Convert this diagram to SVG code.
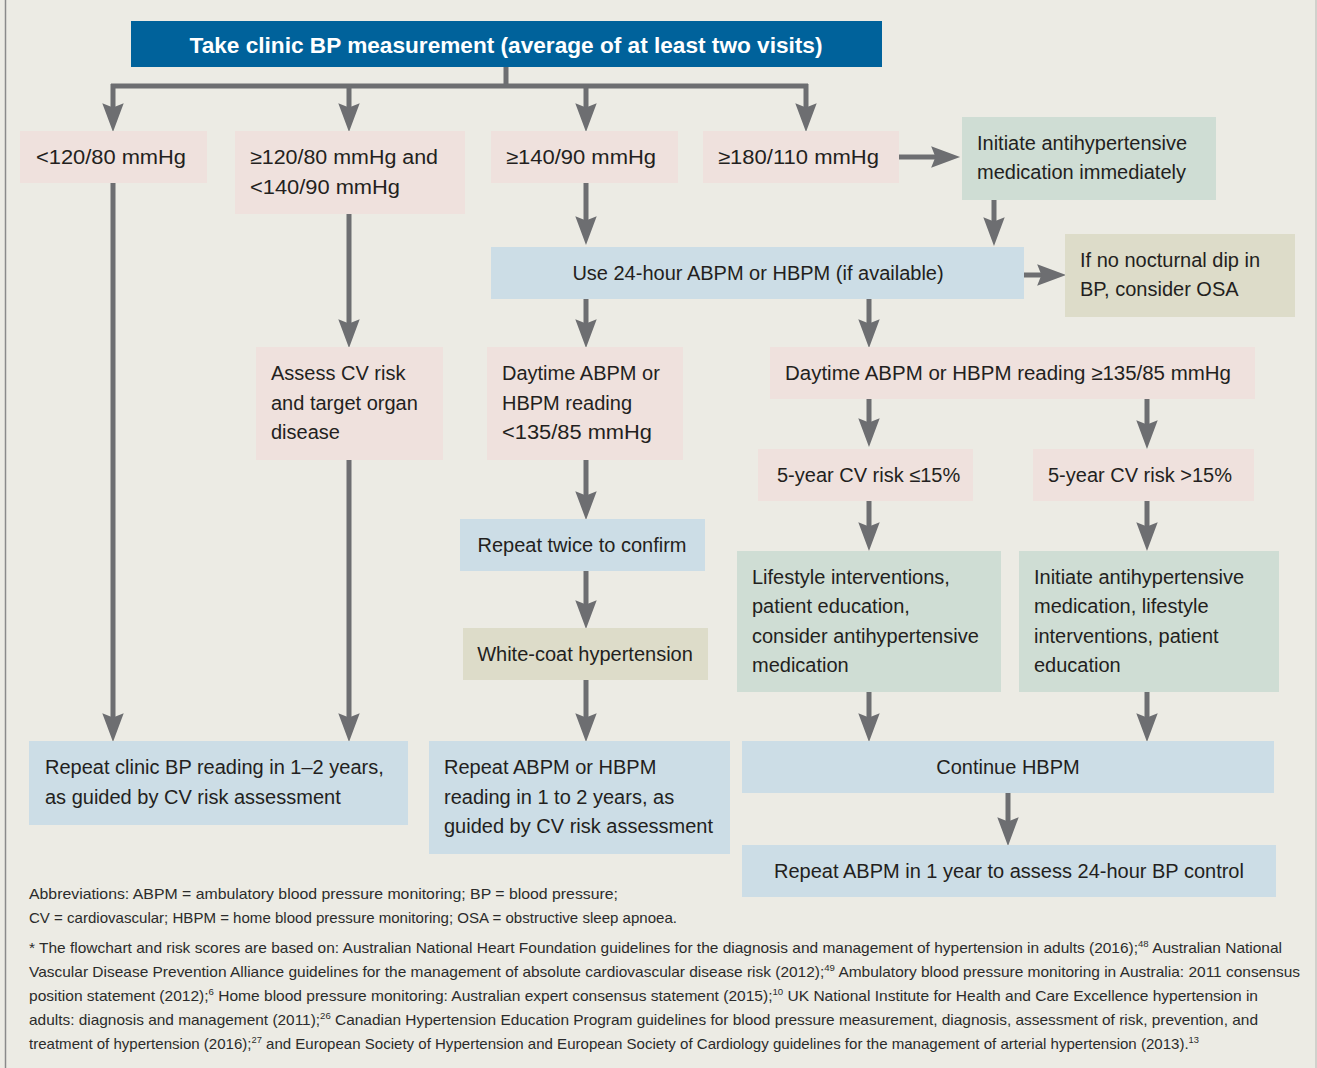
<svg xmlns="http://www.w3.org/2000/svg" width="1317" height="1068" viewBox="0 0 1317 1068">
<defs>
<style>
.t{font-family:"Liberation Sans",Arial,sans-serif;font-size:20px;fill:#231F20}
.c{text-anchor:middle}
.hd{font-family:"Liberation Sans",Arial,sans-serif;font-size:22px;font-weight:bold;fill:#FFFFFF;text-anchor:middle}
.fn{font-family:"Liberation Sans",Arial,sans-serif;font-size:14.5px;fill:#2B2B2B}
.sup{font-size:9px}
.pink{fill:#EFE1DD}
.blue{fill:#CCDDE6}
.green{fill:#CFDDD4}
.olive{fill:#DDDCC9}
.ln{fill:none;stroke:#6D6E71;stroke-width:5}
</style>
<marker id="ah" markerUnits="userSpaceOnUse" orient="auto" markerWidth="30" markerHeight="22" refX="12" refY="10" viewBox="0 0 28 20">
<path d="M0,0 L27,10 L0,20 L4,10 Z" fill="#6D6E71"/>
</marker>
</defs>
<rect x="0" y="0" width="1317" height="1068" fill="#ECEBE4"/>
<line x1="5.5" y1="0" x2="5.5" y2="1068" stroke="#8A8A8A" stroke-width="1.5"/>
<line x1="1316" y1="0" x2="1316" y2="1068" stroke="#C8C8C4" stroke-width="1.5"/>

<g id="connectors">
<polyline class="ln" points="506,67 506,86"/>
<polyline class="ln" points="111,86 808,86"/>
<line class="ln" x1="113" y1="84" x2="113" y2="116" marker-end="url(#ah)"/>
<line class="ln" x1="349" y1="84" x2="349" y2="116" marker-end="url(#ah)"/>
<line class="ln" x1="586" y1="84" x2="586" y2="116" marker-end="url(#ah)"/>
<line class="ln" x1="806" y1="84" x2="806" y2="116" marker-end="url(#ah)"/>
<line class="ln" x1="899" y1="157" x2="944" y2="157" marker-end="url(#ah)"/>
<line class="ln" x1="994" y1="200" x2="994" y2="230" marker-end="url(#ah)"/>
<line class="ln" x1="586" y1="183" x2="586" y2="229" marker-end="url(#ah)"/>
<line class="ln" x1="1024" y1="275" x2="1050" y2="275" marker-end="url(#ah)"/>
<line class="ln" x1="113" y1="183" x2="113" y2="726" marker-end="url(#ah)"/>
<line class="ln" x1="349" y1="214" x2="349" y2="332" marker-end="url(#ah)"/>
<line class="ln" x1="349" y1="460" x2="349" y2="726" marker-end="url(#ah)"/>
<line class="ln" x1="586" y1="299" x2="586" y2="332" marker-end="url(#ah)"/>
<line class="ln" x1="869" y1="299" x2="869" y2="332" marker-end="url(#ah)"/>
<line class="ln" x1="586" y1="460" x2="586" y2="504" marker-end="url(#ah)"/>
<line class="ln" x1="586" y1="571" x2="586" y2="613" marker-end="url(#ah)"/>
<line class="ln" x1="586" y1="680" x2="586" y2="726" marker-end="url(#ah)"/>
<line class="ln" x1="869" y1="399" x2="869" y2="431" marker-end="url(#ah)"/>
<line class="ln" x1="1147" y1="399" x2="1147" y2="433" marker-end="url(#ah)"/>
<line class="ln" x1="869" y1="501" x2="869" y2="535" marker-end="url(#ah)"/>
<line class="ln" x1="1147" y1="501" x2="1147" y2="535" marker-end="url(#ah)"/>
<line class="ln" x1="869" y1="692" x2="869" y2="726" marker-end="url(#ah)"/>
<line class="ln" x1="1147" y1="692" x2="1147" y2="726" marker-end="url(#ah)"/>
<line class="ln" x1="1008" y1="793" x2="1008" y2="830" marker-end="url(#ah)"/>
</g>

<g id="header">
<rect x="131" y="21" width="751" height="46" fill="#00629B"/>
<text class="hd" x="506" y="53" textLength="633" lengthAdjust="spacingAndGlyphs">Take clinic BP measurement (average of at least two visits)</text>
</g>

<g id="lt120">
<rect class="pink" x="20" y="131" width="187" height="52"/>
<text class="t" x="36" y="164" textLength="150" lengthAdjust="spacingAndGlyphs">&lt;120/80 mmHg</text>
</g>
<g id="bt120_140">
<rect class="pink" x="235" y="131" width="230" height="83"/>
<text class="t" x="250" y="164" textLength="188" lengthAdjust="spacingAndGlyphs">≥120/80 mmHg and</text>
<text class="t" x="250" y="194" textLength="150" lengthAdjust="spacingAndGlyphs">&lt;140/90 mmHg</text>
</g>
<g id="ge140">
<rect class="pink" x="491" y="131" width="187" height="52"/>
<text class="t" x="506" y="164" textLength="150" lengthAdjust="spacingAndGlyphs">≥140/90 mmHg</text>
</g>
<g id="ge180">
<rect class="pink" x="703" y="131" width="196" height="52"/>
<text class="t" x="718" y="164" textLength="161" lengthAdjust="spacingAndGlyphs">≥180/110 mmHg</text>
</g>
<g id="initiate_now">
<rect class="green" x="962" y="117" width="254" height="83"/>
<text class="t" x="977" y="150">Initiate antihypertensive</text>
<text class="t" x="977" y="179">medication immediately</text>
</g>
<g id="use24">
<rect class="blue" x="491" y="247" width="533" height="52"/>
<text class="t c" x="758" y="280">Use 24-hour ABPM or HBPM (if available)</text>
</g>
<g id="osa">
<rect class="olive" x="1065" y="234" width="230" height="83"/>
<text class="t" x="1080" y="267">If no nocturnal dip in</text>
<text class="t" x="1080" y="296">BP, consider OSA</text>
</g>
<g id="assess">
<rect class="pink" x="256" y="347" width="187" height="113"/>
<text class="t" x="271" y="380">Assess CV risk</text>
<text class="t" x="271" y="410">and target organ</text>
<text class="t" x="271" y="439">disease</text>
</g>
<g id="day_lt">
<rect class="pink" x="487" y="347" width="196" height="113"/>
<text class="t" x="502" y="380">Daytime ABPM or</text>
<text class="t" x="502" y="410">HBPM reading</text>
<text class="t" x="502" y="439" textLength="150" lengthAdjust="spacingAndGlyphs">&lt;135/85 mmHg</text>
</g>
<g id="day_ge">
<rect class="pink" x="770" y="347" width="485" height="52"/>
<text class="t" x="785" y="380" textLength="446" lengthAdjust="spacingAndGlyphs">Daytime ABPM or HBPM reading ≥135/85 mmHg</text>
</g>
<g id="risk_le">
<rect class="pink" x="758" y="449" width="215" height="52"/>
<text class="t" x="777" y="482">5-year CV risk ≤15%</text>
</g>
<g id="risk_gt">
<rect class="pink" x="1033" y="449" width="221" height="52"/>
<text class="t" x="1048" y="482">5-year CV risk &gt;15%</text>
</g>
<g id="repeat_twice">
<rect class="blue" x="460" y="519" width="245" height="52"/>
<text class="t c" x="582" y="552">Repeat twice to confirm</text>
</g>
<g id="white_coat">
<rect class="olive" x="463" y="628" width="245" height="52"/>
<text class="t c" x="585" y="661">White-coat hypertension</text>
</g>
<g id="lifestyle">
<rect class="green" x="737" y="551" width="264" height="141"/>
<text class="t" x="752" y="584">Lifestyle interventions,</text>
<text class="t" x="752" y="613">patient education,</text>
<text class="t" x="752" y="643">consider antihypertensive</text>
<text class="t" x="752" y="672">medication</text>
</g>
<g id="initiate_med">
<rect class="green" x="1019" y="551" width="260" height="141"/>
<text class="t" x="1034" y="584">Initiate antihypertensive</text>
<text class="t" x="1034" y="613">medication, lifestyle</text>
<text class="t" x="1034" y="643">interventions, patient</text>
<text class="t" x="1034" y="672">education</text>
</g>
<g id="repeat_clinic">
<rect class="blue" x="29" y="741" width="379" height="84"/>
<text class="t" x="45" y="774">Repeat clinic BP reading in 1–2 years,</text>
<text class="t" x="45" y="804">as guided by CV risk assessment</text>
</g>
<g id="repeat_abpm_hbpm">
<rect class="blue" x="429" y="741" width="301" height="113"/>
<text class="t" x="444" y="774">Repeat ABPM or HBPM</text>
<text class="t" x="444" y="804">reading in 1 to 2 years, as</text>
<text class="t" x="444" y="833">guided by CV risk assessment</text>
</g>
<g id="continue_hbpm">
<rect class="blue" x="742" y="741" width="532" height="52"/>
<text class="t c" x="1008" y="774">Continue HBPM</text>
</g>
<g id="repeat_abpm_1yr">
<rect class="blue" x="742" y="845" width="534" height="52"/>
<text class="t c" x="1009" y="878">Repeat ABPM in 1 year to assess 24-hour BP control</text>
</g>

<g id="footnotes">
<text class="fn" x="29" y="899" textLength="589" lengthAdjust="spacingAndGlyphs">Abbreviations: ABPM = ambulatory blood pressure monitoring; BP = blood pressure;</text>
<text class="fn" x="29" y="923" textLength="648" lengthAdjust="spacingAndGlyphs">CV = cardiovascular; HBPM = home blood pressure monitoring; OSA = obstructive sleep apnoea.</text>
<text class="fn" x="29" y="953" textLength="1253" lengthAdjust="spacingAndGlyphs">* The flowchart and risk scores are based on: Australian National Heart Foundation guidelines for the diagnosis and management of hypertension in adults (2016);<tspan class="sup" dy="-6">48</tspan><tspan dy="6"> Australian National</tspan></text>
<text class="fn" x="29" y="977" textLength="1271" lengthAdjust="spacingAndGlyphs">Vascular Disease Prevention Alliance guidelines for the management of absolute cardiovascular disease risk (2012);<tspan class="sup" dy="-6">49</tspan><tspan dy="6"> Ambulatory blood pressure monitoring in Australia: 2011 consensus</tspan></text>
<text class="fn" x="29" y="1001" textLength="1229" lengthAdjust="spacingAndGlyphs">position statement (2012);<tspan class="sup" dy="-6">6</tspan><tspan dy="6"> Home blood pressure monitoring: Australian expert consensus statement (2015);</tspan><tspan class="sup" dy="-6">10</tspan><tspan dy="6"> UK National Institute for Health and Care Excellence hypertension in</tspan></text>
<text class="fn" x="29" y="1025" textLength="1229" lengthAdjust="spacingAndGlyphs">adults: diagnosis and management (2011);<tspan class="sup" dy="-6">26</tspan><tspan dy="6"> Canadian Hypertension Education Program guidelines for blood pressure measurement, diagnosis, assessment of risk, prevention, and</tspan></text>
<text class="fn" x="29" y="1049" textLength="1170" lengthAdjust="spacingAndGlyphs">treatment of hypertension (2016);<tspan class="sup" dy="-6">27</tspan><tspan dy="6"> and European Society of Hypertension and European Society of Cardiology guidelines for the management of arterial hypertension (2013).</tspan><tspan class="sup" dy="-6">13</tspan></text>
</g>
</svg>
